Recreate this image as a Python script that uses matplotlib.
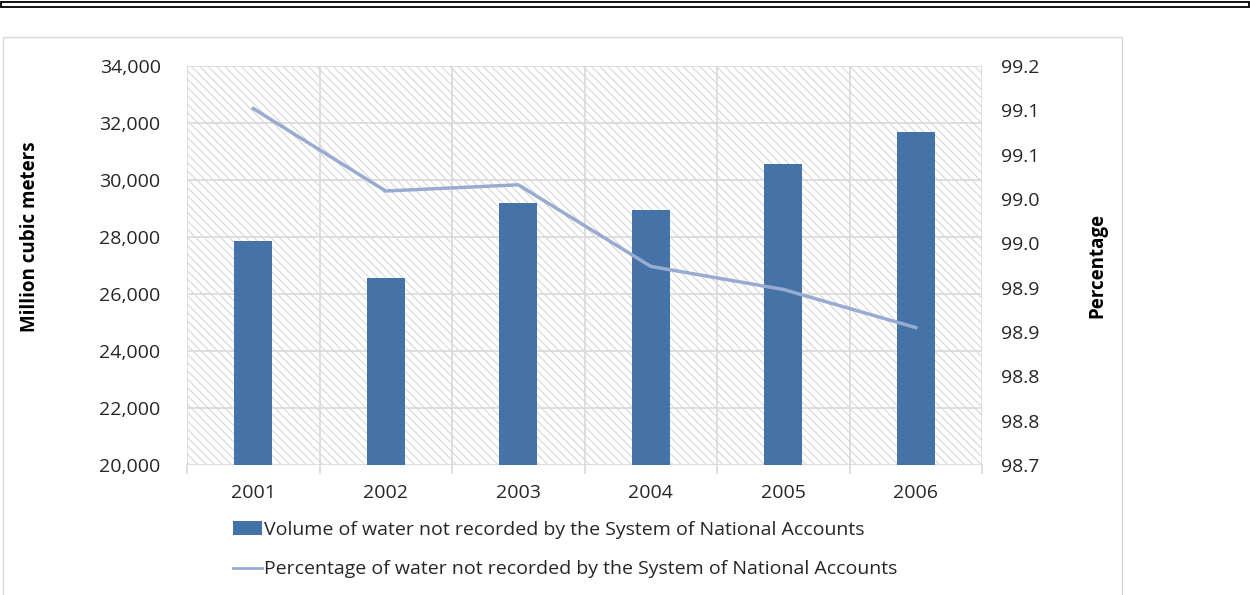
import matplotlib.pyplot as plt
from matplotlib.patches import Rectangle, Patch
from matplotlib.lines import Line2D
import numpy as np

# Datos
years = ['2001', '2002', '2003', '2004', '2005', '2006']
volume = [27870, 26570, 29200, 28960, 30550, 31680]
percentage = [99.152, 99.059, 99.066, 98.974, 98.948, 98.905]

left_ticks = [20000, 22000, 24000, 26000, 28000, 30000, 32000, 34000]
right_ticks = [98.75, 98.80, 98.85, 98.90, 98.95, 99.00, 99.05, 99.10, 99.15, 99.20]
right_labels = ['98.7', '98.8', '98.8', '98.9', '98.9', '99.0', '99.0', '99.1', '99.1', '99.2']

bar_label = 'Volume of water not recorded by the System of National Accounts'
line_label = 'Percentage of water not recorded by the System of National Accounts'

bar_color = '#4572a7'
line_color = '#98abd0'
grid_color = '#d9d9d9'
text_color = '#262626'

plt.rcParams['font.family'] = ['Open Sans', 'DejaVu Sans']
plt.rcParams['hatch.linewidth'] = 0.7
plt.rcParams['hatch.color'] = '#d2d2d2'

fig = plt.figure(figsize=(12.5, 5.95), dpi=100)
ax = fig.add_axes([0.1496, 0.2185, 0.636, 0.6706])

x = np.arange(len(years))

# fondo rayado del area de trazado
ax.add_patch(Rectangle((0, 0), 1, 1, transform=ax.transAxes, facecolor='white',
                       edgecolor='#d2d2d2', hatch='\\\\\\\\', linewidth=0, zorder=0))

ax.bar(x, volume, width=0.29, color=bar_color, zorder=3)
ax.set_xlim(-0.5, len(years) - 0.5)
ax.set_ylim(20000, 34000)
ax.set_yticks(left_ticks)
ax.set_yticklabels(['{:,}'.format(v) for v in left_ticks])
ax.set_xticks(x)
ax.set_xticklabels(years)
ax.tick_params(axis='x', length=0, pad=14, labelsize=14, labelcolor=text_color)
ax.tick_params(axis='y', length=0, pad=19, labelsize=14, labelcolor=text_color)

# lineas de cuadricula
for v in left_ticks:
    ax.axhline(v, color=grid_color, linewidth=1.2, zorder=1)
for b in np.arange(-0.5, len(years), 1.0):
    ax.axvline(b, color=grid_color, linewidth=1.2, zorder=1)
    ax.plot([b, b], [0, -0.02], transform=ax.get_xaxis_transform(), color=grid_color,
            linewidth=1.2, clip_on=False)
for s in ax.spines.values():
    s.set_visible(False)

ax.set_ylabel('Million cubic meters', fontsize=13.5, fontweight='bold', color='black')
ax.yaxis.set_label_coords(-0.185, 0.571)

ax2 = ax.twinx()
ax2.plot(x, percentage, color=line_color, linewidth=2.5, zorder=4)
ax2.set_ylim(98.75, 99.20)
ax2.set_yticks(right_ticks)
ax2.set_yticklabels(right_labels)
ax2.tick_params(axis='y', length=0, pad=14, labelsize=14, labelcolor=text_color)
for s in ax2.spines.values():
    s.set_visible(False)
ax2.set_ylabel('Percentage', fontsize=13.5, fontweight='bold', color='black')
ax2.yaxis.set_label_coords(1.132, 0.499)

handles = [Patch(facecolor=bar_color, edgecolor='none'),
           Line2D([0], [0], color=line_color, linewidth=2)]
fig.legend(handles, [bar_label, line_label], loc='upper left',
           bbox_to_anchor=(0.1785, 0.1415), frameon=False, fontsize=14,
           handlelength=1.5, handletextpad=0.1, labelspacing=1.12,
           labelcolor=text_color, borderpad=0)

# marco del grafico y doble linea superior
fig.add_artist(Rectangle((3 / 1250, -0.01), 1119 / 1250, 1 - 37 / 595 + 0.01,
                         transform=fig.transFigure, facecolor='none',
                         edgecolor='#d9d9d9', linewidth=1))
fig.add_artist(Rectangle((0.0005, 1 - 6.5 / 595), 0.999, 5 / 595,
                         transform=fig.transFigure, facecolor='white',
                         edgecolor='black', linewidth=1.3))

fig.savefig('out.png', dpi=100)
